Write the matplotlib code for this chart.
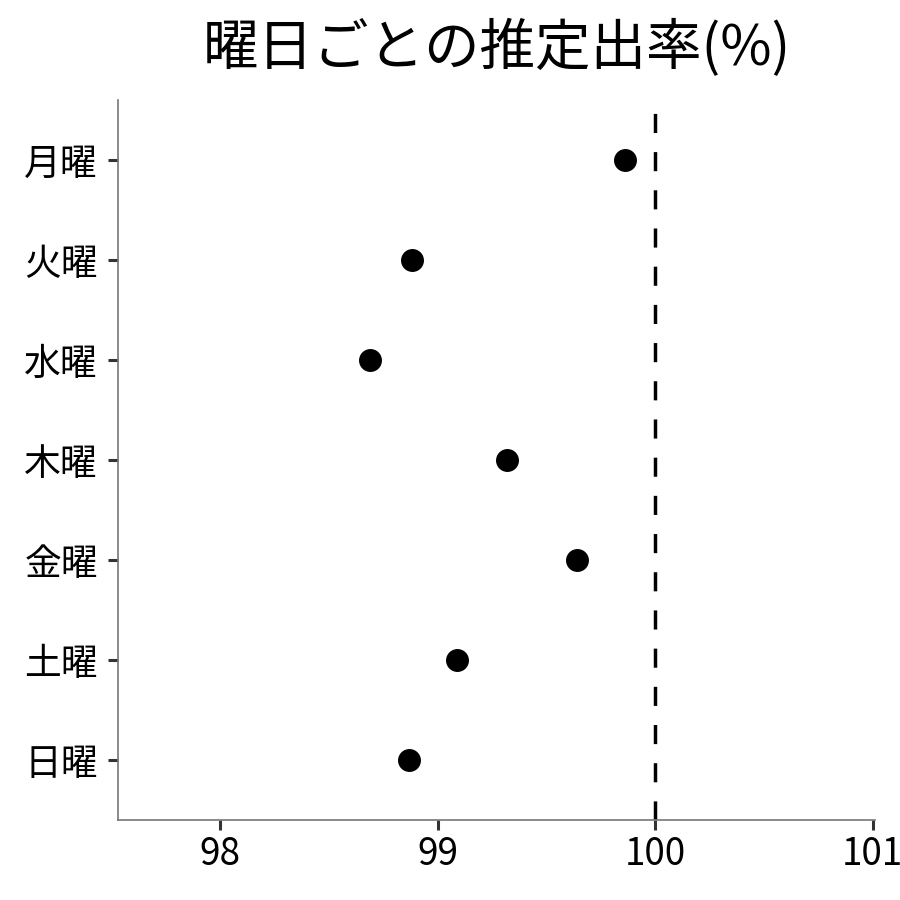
import numpy as np
import matplotlib
matplotlib.use("Agg")
import matplotlib.pyplot as plt

plt.rcParams['font.family'] = ['Noto Sans CJK JP', 'DejaVu Sans']

# datos
dias = ["月曜", "火曜", "水曜", "木曜", "金曜", "土曜", "日曜"]
tasa = [99.86, 98.88, 98.69, 99.32, 99.64, 99.09, 98.87]
referencia = 100
xticks = [98, 99, 100, 101]

fig = plt.figure(figsize=(9, 9), dpi=100)
ax = fig.add_axes([0.131, 0.089, 0.841, 0.8])

pos = np.arange(len(dias))[::-1]
ax.plot(tasa, pos, "o", color="black", markersize=15.5, linestyle="none", zorder=3)
ax.axvline(referencia, color="black", linewidth=2.5, linestyle=(0, (5.5, 5.5)))

ax.set_xlim(97.53, 101.01)
ax.set_ylim(-0.6, len(dias) - 1 + 0.6)
ax.set_xticks(xticks)
ax.set_xticklabels([str(t) for t in xticks])
ax.set_yticks(pos)
ax.set_yticklabels(dias)

for s in ["top", "right"]:
    ax.spines[s].set_visible(False)
for s in ["left", "bottom"]:
    ax.spines[s].set_color("#777777")
    ax.spines[s].set_linewidth(1.2)

ax.tick_params(axis="both", length=7, width=2.2, color="#333333",
               labelsize=26.5, labelcolor="black", pad=4)
ax.tick_params(axis="y", pad=7.5)

ax.set_title("曜日ごとの推定出率(%)", fontsize=40, pad=25)

fig.savefig("out.png", dpi=100)
